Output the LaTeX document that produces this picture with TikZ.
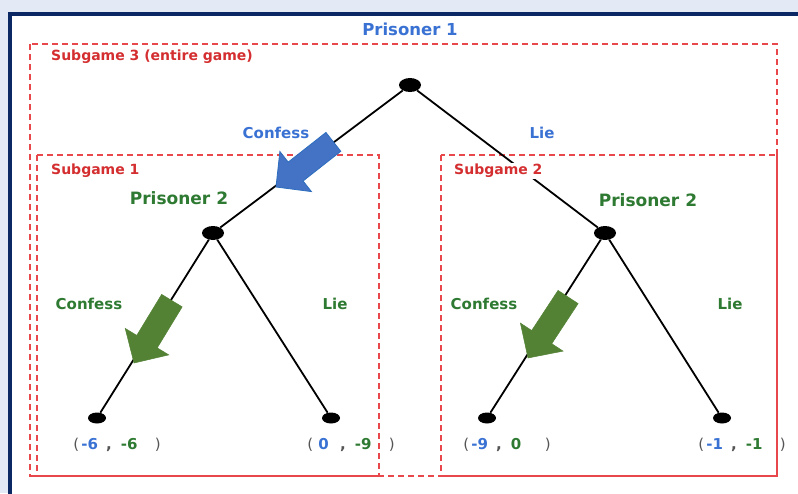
\documentclass[tikz,border=0pt]{standalone}
\usepackage{fontspec}
\setmainfont{DejaVu Sans}
\usetikzlibrary{shapes.geometric}

\definecolor{pageback}{RGB}{228,234,245}
\definecolor{navyline}{RGB}{12,40,100}
\definecolor{pblue}{RGB}{58,114,212}
\definecolor{pgreen}{RGB}{46,122,50}
\definecolor{pred}{RGB}{212,46,48}
\definecolor{boxred}{RGB}{232,72,76}
\definecolor{arrowblue}{RGB}{68,114,196}
\definecolor{arrowedge}{RGB}{46,110,190}
\definecolor{arrowgreen}{RGB}{84,130,53}
\definecolor{parengray}{RGB}{85,85,85}

% fat block arrow, tip at #1, turned by #2
\newcommand{\fatarrow}[3]{%
  \begin{scope}[shift={#1},rotate=#2]
    \filldraw[#3] (0,0) -- (-25,25.5) -- (-25,12) -- (-73,12) -- (-73,-12) -- (-25,-12) -- (-25,-25.5) -- cycle;
  \end{scope}}

% payoff pair below a leaf
\newcommand{\payoff}[2]{%
  \textcolor{parengray}{\mdseries(}\hspace{2pt}\makebox[17pt]{\textcolor{pblue}{#1}}\hspace{8pt}\textcolor{parengray}{,}\hspace{9pt}\makebox[17pt][l]{\textcolor{pgreen}{#2}}\hspace{17pt}\textcolor{parengray}{\mdseries)}}

\begin{document}
\begin{tikzpicture}[x=1pt,y=-1pt,
			decision/.style={ellipse, fill=black, minimum width=22pt, minimum height=14pt, inner sep=0pt},
			leaf/.style={ellipse, fill=black, minimum width=18pt, minimum height=11pt, inner sep=0pt},
			edge/.style={black, line width=1.8pt},
			subbox/.style={boxred, line width=2pt, dash pattern=on 6pt off 4pt},
			overlap/.style={boxred, line width=2pt},
			boxlabel/.style={text=pred, font=\bfseries\fontsize{14}{16}\selectfont, anchor=west, inner sep=1pt},
			p1label/.style={text=pblue, font=\bfseries\fontsize{15}{18}\selectfont},
			p2label/.style={text=pgreen, font=\bfseries\fontsize{15}{18}\selectfont},
			]
			
			% page and panel
			\useasboundingbox (0,0) rectangle (798,493);
			\fill[pageback] (0,0) rectangle (798,493);
			\clip (0,0) rectangle (798,493);
			\filldraw[fill=white, draw=navyline, line width=4pt] (10,14) rectangle (820,520);
			
			% subgame boxes
			\draw[subbox] (30,44) rectangle (777,476);
			\draw[subbox] (37,155) rectangle (379,476);
			\draw[subbox] (441,155) rectangle (777,476);
			% where the boxes share a side
			\draw[overlap] (30,476) -- (381,476);
			\draw[overlap] (441,476) -- (777,476) -- (777,155);
			
			% decision nodes
			\node[decision] (p1) at (410,85) {};
			\node[decision] (p2l) at (213,233) {};
			\node[decision] (p2r) at (605,233) {};
			
			% leaves with payoffs
			\foreach \x/\a/\b [count=\n from 1] in {97/-6/-6, 331/0/-9, 487/-9/0, 722/-1/-1} {
				\node[leaf] (t\n) at (\x,418) {};
				\node[inner sep=0pt, font=\bfseries\fontsize{15}{18}\selectfont] (pay\n) at (\x+20,445) {\payoff{\a}{\b}};
			}
			
			% branches
			\draw[edge] (p1) -- (p2l);
			\draw[edge] (p1) -- (p2r);
			\foreach \n/\p in {1/p2l, 2/p2l, 3/p2r, 4/p2r} {
				\draw[edge] (\p) -- (t\n);
			}
			
			% labels
			\node[boxlabel] (sg3) at (50,57) {Subgame 3 (entire game)};
			\node[boxlabel] (sg1) at (50,171) {Subgame 1};
			\node[boxlabel, fill=white] (sg2) at (453,171) {Subgame 2};
			\node[p1label, font=\bfseries\fontsize{16.5}{20}\selectfont] (who1) at (410,29) {Prisoner 1};
			\node[p1label] (c1) at (276,133) {Confess};
			\node[p1label] (l1) at (542,133) {Lie};
			\node[p2label, font=\bfseries\fontsize{17}{20}\selectfont] (who2l) at (179,198) {Prisoner 2};
			\node[p2label, font=\bfseries\fontsize{17}{20}\selectfont] (who2r) at (648,200) {Prisoner 2};
			\node[p2label] (c2l) at (89,304) {Confess};
			\node[p2label] (l2l) at (335,304) {Lie};
			\node[p2label] (c2r) at (484,304) {Confess};
			\node[p2label] (l2r) at (730,304) {Lie};
			
			% equilibrium choices
			\fatarrow{(276,187)}{218.2}{fill=arrowblue, draw=arrowedge, line width=0.8pt}
			\fatarrow{(134,363)}{238.7}{fill=arrowgreen, draw=arrowgreen, line width=0.5pt}
			\fatarrow{(528,358)}{236.7}{fill=arrowgreen, draw=arrowgreen, line width=0.5pt}
			
		\end{tikzpicture}
\end{document}
